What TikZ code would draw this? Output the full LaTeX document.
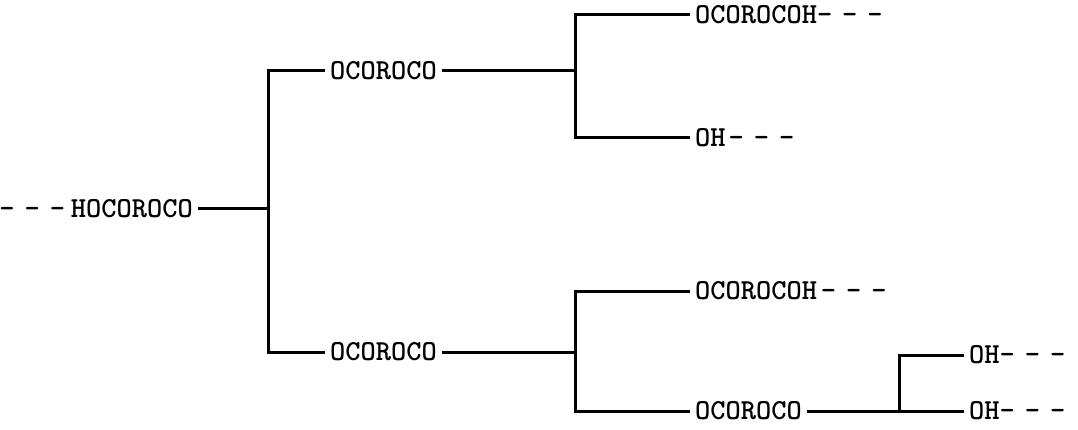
\documentclass[tikz,border=0pt]{standalone}
\newcommand{\dsh}{\textendash\hspace{10pt}\textendash\hspace{10pt}\textendash}
\begin{document}
\begin{tikzpicture}[x=1pt,y=-1pt,
  lbl/.style={font=\fontsize{29}{29}\selectfont\ttfamily\bfseries, inner xsep=5pt, inner ysep=0pt},
  conn/.style={line width=3pt, line join=miter}]
\useasboundingbox (0,0) rectangle (1078,430);
\node[lbl,anchor=east] (n0) at (198,209) {\dsh\hspace{6pt}HOCOROCO};
\node[lbl,anchor=west] (n1) at (325,71) {OCOROCO};
\node[lbl,anchor=west] (n4) at (325,352) {OCOROCO};
\node[lbl,anchor=west] (n2) at (690,15) {OCOROCOH\dsh};
\node[lbl,anchor=west] (n3) at (690,138) {OH\hspace{3pt}\dsh};
\node[lbl,anchor=west] (n5) at (690,291) {OCOROCOH\hspace{4pt}\dsh};
\node[lbl,anchor=west] (n6) at (690,411) {OCOROCO};
\node[lbl,anchor=west] (n7) at (964,355) {OH\dsh};
\node[lbl,anchor=west] (n8) at (964,411) {OH\dsh};
\coordinate (a) at (268,0);
\coordinate (b) at (575,0);
\coordinate (c) at (899,0);
\draw[conn] (n1.west) -- (n1.west -| a) -- (n4.west -| a) -- (n4.west);
\draw[conn] (n0.east) -- (n0.east -| a);
\draw[conn] (n2.west) -- (n2.west -| b) -- (n3.west -| b) -- (n3.west);
\draw[conn] (n1.east) -- (n1.east -| b);
\draw[conn] (n5.west) -- (n5.west -| b) -- (n6.west -| b) -- (n6.west);
\draw[conn] (n4.east) -- (n4.east -| b);
\draw[conn] (n7.west) -- (n7.west -| c) -- (n8.west -| c);
\draw[conn] (n6.east) -- (n8.west);
\end{tikzpicture}
\end{document}
